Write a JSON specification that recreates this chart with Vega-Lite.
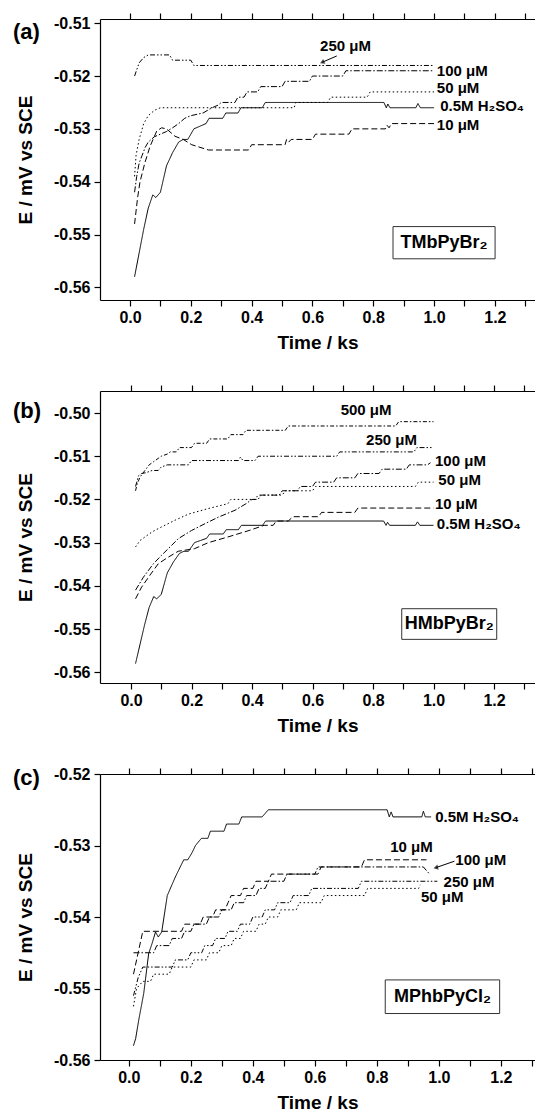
{
  "$schema": "https://vega.github.io/schema/vega-lite/v6.json",
  "padding": {"left": 13, "top": 12, "right": 0, "bottom": 0},
  "background": "white",
  "bounds": "flush",
  "spacing": 91,
  "config": {
    "view": {"stroke": null},
    "axis": {"grid": false, "domainColor": "#000", "tickColor": "#000", "labelColor": "#000", "titleColor": "#000", "labelFont": "Liberation Sans", "titleFont": "Liberation Sans", "labelFontWeight": "bold", "titleFontWeight": "bold", "labelFontSize": 16, "titleFontSize": 19, "domainWidth": 1.2, "tickWidth": 1.2},
    "text": {"font": "Liberation Sans", "fontWeight": "bold", "fontSize": 15, "color": "#000", "baseline": "middle", "align": "left"}
  },
  "datasets": {
    "a": [
      {"s": "0.5M H2SO4", "t": 0.015, "e": -0.558}, {"s": "0.5M H2SO4", "t": 0.03, "e": -0.5535}, {"s": "0.5M H2SO4", "t": 0.045, "e": -0.549}, {"s": "0.5M H2SO4", "t": 0.06, "e": -0.545}, {"s": "0.5M H2SO4", "t": 0.075, "e": -0.5425}, {"s": "0.5M H2SO4", "t": 0.085, "e": -0.543}, {"s": "0.5M H2SO4", "t": 0.1, "e": -0.542}, {"s": "0.5M H2SO4", "t": 0.12, "e": -0.537}, {"s": "0.5M H2SO4", "t": 0.14, "e": -0.5345}, {"s": "0.5M H2SO4", "t": 0.16, "e": -0.5325}, {"s": "0.5M H2SO4", "t": 0.175, "e": -0.532}, {"s": "0.5M H2SO4", "t": 0.19, "e": -0.532}, {"s": "0.5M H2SO4", "t": 0.2, "e": -0.531}, {"s": "0.5M H2SO4", "t": 0.21, "e": -0.53}, {"s": "0.5M H2SO4", "t": 0.23, "e": -0.5295}, {"s": "0.5M H2SO4", "t": 0.25, "e": -0.529}, {"s": "0.5M H2SO4", "t": 0.26, "e": -0.528}, {"s": "0.5M H2SO4", "t": 0.305, "e": -0.528}, {"s": "0.5M H2SO4", "t": 0.315, "e": -0.527}, {"s": "0.5M H2SO4", "t": 0.355, "e": -0.527}, {"s": "0.5M H2SO4", "t": 0.365, "e": -0.526}, {"s": "0.5M H2SO4", "t": 0.435, "e": -0.526}, {"s": "0.5M H2SO4", "t": 0.445, "e": -0.525}, {"s": "0.5M H2SO4", "t": 0.835, "e": -0.525}, {"s": "0.5M H2SO4", "t": 0.843, "e": -0.526}, {"s": "0.5M H2SO4", "t": 0.848, "e": -0.5253}, {"s": "0.5M H2SO4", "t": 0.855, "e": -0.526}, {"s": "0.5M H2SO4", "t": 0.94, "e": -0.526}, {"s": "0.5M H2SO4", "t": 0.947, "e": -0.5252}, {"s": "0.5M H2SO4", "t": 0.955, "e": -0.526}, {"s": "0.5M H2SO4", "t": 1.0, "e": -0.526},
      {"s": "10 μM", "t": 0.015, "e": -0.548}, {"s": "10 μM", "t": 0.025, "e": -0.543}, {"s": "10 μM", "t": 0.033, "e": -0.54}, {"s": "10 μM", "t": 0.049, "e": -0.5364}, {"s": "10 μM", "t": 0.066, "e": -0.5333}, {"s": "10 μM", "t": 0.088, "e": -0.5304}, {"s": "10 μM", "t": 0.104, "e": -0.5298}, {"s": "10 μM", "t": 0.12, "e": -0.53}, {"s": "10 μM", "t": 0.148, "e": -0.5314}, {"s": "10 μM", "t": 0.175, "e": -0.532}, {"s": "10 μM", "t": 0.203, "e": -0.533}, {"s": "10 μM", "t": 0.258, "e": -0.534}, {"s": "10 μM", "t": 0.39, "e": -0.534}, {"s": "10 μM", "t": 0.4, "e": -0.533}, {"s": "10 μM", "t": 0.51, "e": -0.533}, {"s": "10 μM", "t": 0.515, "e": -0.532}, {"s": "10 μM", "t": 0.522, "e": -0.5325}, {"s": "10 μM", "t": 0.53, "e": -0.532}, {"s": "10 μM", "t": 0.6, "e": -0.532}, {"s": "10 μM", "t": 0.61, "e": -0.531}, {"s": "10 μM", "t": 0.72, "e": -0.531}, {"s": "10 μM", "t": 0.73, "e": -0.53}, {"s": "10 μM", "t": 0.84, "e": -0.53}, {"s": "10 μM", "t": 0.845, "e": -0.5293}, {"s": "10 μM", "t": 0.852, "e": -0.5298}, {"s": "10 μM", "t": 0.86, "e": -0.529}, {"s": "10 μM", "t": 1.0, "e": -0.529},
      {"s": "50 μM", "t": 0.015, "e": -0.539}, {"s": "50 μM", "t": 0.02, "e": -0.535}, {"s": "50 μM", "t": 0.03, "e": -0.532}, {"s": "50 μM", "t": 0.045, "e": -0.529}, {"s": "50 μM", "t": 0.06, "e": -0.5275}, {"s": "50 μM", "t": 0.08, "e": -0.5265}, {"s": "50 μM", "t": 0.1, "e": -0.526}, {"s": "50 μM", "t": 0.54, "e": -0.526}, {"s": "50 μM", "t": 0.545, "e": -0.525}, {"s": "50 μM", "t": 0.65, "e": -0.525}, {"s": "50 μM", "t": 0.66, "e": -0.524}, {"s": "50 μM", "t": 0.78, "e": -0.524}, {"s": "50 μM", "t": 0.79, "e": -0.523}, {"s": "50 μM", "t": 1.0, "e": -0.523},
      {"s": "100 μM", "t": 0.015, "e": -0.542}, {"s": "100 μM", "t": 0.022, "e": -0.539}, {"s": "100 μM", "t": 0.03, "e": -0.5365}, {"s": "100 μM", "t": 0.04, "e": -0.535}, {"s": "100 μM", "t": 0.05, "e": -0.5335}, {"s": "100 μM", "t": 0.06, "e": -0.5325}, {"s": "100 μM", "t": 0.08, "e": -0.5315}, {"s": "100 μM", "t": 0.1, "e": -0.531}, {"s": "100 μM", "t": 0.12, "e": -0.5305}, {"s": "100 μM", "t": 0.14, "e": -0.5298}, {"s": "100 μM", "t": 0.16, "e": -0.529}, {"s": "100 μM", "t": 0.18, "e": -0.528}, {"s": "100 μM", "t": 0.2, "e": -0.5275}, {"s": "100 μM", "t": 0.24, "e": -0.527}, {"s": "100 μM", "t": 0.27, "e": -0.526}, {"s": "100 μM", "t": 0.29, "e": -0.5255}, {"s": "100 μM", "t": 0.3, "e": -0.525}, {"s": "100 μM", "t": 0.345, "e": -0.525}, {"s": "100 μM", "t": 0.355, "e": -0.524}, {"s": "100 μM", "t": 0.375, "e": -0.524}, {"s": "100 μM", "t": 0.385, "e": -0.523}, {"s": "100 μM", "t": 0.42, "e": -0.523}, {"s": "100 μM", "t": 0.43, "e": -0.522}, {"s": "100 μM", "t": 0.5, "e": -0.522}, {"s": "100 μM", "t": 0.51, "e": -0.521}, {"s": "100 μM", "t": 0.59, "e": -0.521}, {"s": "100 μM", "t": 0.6, "e": -0.52}, {"s": "100 μM", "t": 0.7, "e": -0.52}, {"s": "100 μM", "t": 0.71, "e": -0.519}, {"s": "100 μM", "t": 1.0, "e": -0.519},
      {"s": "250 μM", "t": 0.015, "e": -0.52}, {"s": "250 μM", "t": 0.03, "e": -0.5175}, {"s": "250 μM", "t": 0.045, "e": -0.5165}, {"s": "250 μM", "t": 0.06, "e": -0.516}, {"s": "250 μM", "t": 0.13, "e": -0.516}, {"s": "250 μM", "t": 0.14, "e": -0.517}, {"s": "250 μM", "t": 0.2, "e": -0.517}, {"s": "250 μM", "t": 0.21, "e": -0.518}, {"s": "250 μM", "t": 1.0, "e": -0.518}
    ],
    "b": [
      {"s": "0.5M H2SO4", "t": 0.015, "e": -0.558}, {"s": "0.5M H2SO4", "t": 0.03, "e": -0.5535}, {"s": "0.5M H2SO4", "t": 0.045, "e": -0.549}, {"s": "0.5M H2SO4", "t": 0.06, "e": -0.545}, {"s": "0.5M H2SO4", "t": 0.075, "e": -0.5425}, {"s": "0.5M H2SO4", "t": 0.085, "e": -0.543}, {"s": "0.5M H2SO4", "t": 0.1, "e": -0.542}, {"s": "0.5M H2SO4", "t": 0.12, "e": -0.537}, {"s": "0.5M H2SO4", "t": 0.14, "e": -0.5345}, {"s": "0.5M H2SO4", "t": 0.16, "e": -0.5325}, {"s": "0.5M H2SO4", "t": 0.175, "e": -0.532}, {"s": "0.5M H2SO4", "t": 0.19, "e": -0.532}, {"s": "0.5M H2SO4", "t": 0.2, "e": -0.531}, {"s": "0.5M H2SO4", "t": 0.21, "e": -0.53}, {"s": "0.5M H2SO4", "t": 0.23, "e": -0.5295}, {"s": "0.5M H2SO4", "t": 0.25, "e": -0.529}, {"s": "0.5M H2SO4", "t": 0.26, "e": -0.528}, {"s": "0.5M H2SO4", "t": 0.305, "e": -0.528}, {"s": "0.5M H2SO4", "t": 0.315, "e": -0.527}, {"s": "0.5M H2SO4", "t": 0.355, "e": -0.527}, {"s": "0.5M H2SO4", "t": 0.365, "e": -0.526}, {"s": "0.5M H2SO4", "t": 0.435, "e": -0.526}, {"s": "0.5M H2SO4", "t": 0.445, "e": -0.525}, {"s": "0.5M H2SO4", "t": 0.835, "e": -0.525}, {"s": "0.5M H2SO4", "t": 0.843, "e": -0.526}, {"s": "0.5M H2SO4", "t": 0.848, "e": -0.5253}, {"s": "0.5M H2SO4", "t": 0.855, "e": -0.526}, {"s": "0.5M H2SO4", "t": 0.94, "e": -0.526}, {"s": "0.5M H2SO4", "t": 0.947, "e": -0.5252}, {"s": "0.5M H2SO4", "t": 0.955, "e": -0.526}, {"s": "0.5M H2SO4", "t": 1.0, "e": -0.526},
      {"s": "10 μM", "t": 0.015, "e": -0.543}, {"s": "10 μM", "t": 0.035, "e": -0.5403}, {"s": "10 μM", "t": 0.062, "e": -0.5376}, {"s": "10 μM", "t": 0.09, "e": -0.5349}, {"s": "10 μM", "t": 0.12, "e": -0.5335}, {"s": "10 μM", "t": 0.156, "e": -0.532}, {"s": "10 μM", "t": 0.21, "e": -0.5314}, {"s": "10 μM", "t": 0.256, "e": -0.53}, {"s": "10 μM", "t": 0.32, "e": -0.5287}, {"s": "10 μM", "t": 0.39, "e": -0.5272}, {"s": "10 μM", "t": 0.44, "e": -0.526}, {"s": "10 μM", "t": 0.47, "e": -0.526}, {"s": "10 μM", "t": 0.48, "e": -0.525}, {"s": "10 μM", "t": 0.52, "e": -0.525}, {"s": "10 μM", "t": 0.535, "e": -0.524}, {"s": "10 μM", "t": 0.62, "e": -0.524}, {"s": "10 μM", "t": 0.63, "e": -0.523}, {"s": "10 μM", "t": 0.74, "e": -0.523}, {"s": "10 μM", "t": 0.75, "e": -0.522}, {"s": "10 μM", "t": 1.0, "e": -0.522},
      {"s": "50 μM", "t": 0.015, "e": -0.531}, {"s": "50 μM", "t": 0.03, "e": -0.5295}, {"s": "50 μM", "t": 0.046, "e": -0.5287}, {"s": "50 μM", "t": 0.07, "e": -0.5275}, {"s": "50 μM", "t": 0.1, "e": -0.5264}, {"s": "50 μM", "t": 0.146, "e": -0.5248}, {"s": "50 μM", "t": 0.19, "e": -0.5234}, {"s": "50 μM", "t": 0.256, "e": -0.5221}, {"s": "50 μM", "t": 0.32, "e": -0.521}, {"s": "50 μM", "t": 0.33, "e": -0.52}, {"s": "50 μM", "t": 0.41, "e": -0.52}, {"s": "50 μM", "t": 0.42, "e": -0.519}, {"s": "50 μM", "t": 0.5, "e": -0.519}, {"s": "50 μM", "t": 0.51, "e": -0.518}, {"s": "50 μM", "t": 0.6, "e": -0.518}, {"s": "50 μM", "t": 0.61, "e": -0.517}, {"s": "50 μM", "t": 0.94, "e": -0.517}, {"s": "50 μM", "t": 0.95, "e": -0.516}, {"s": "50 μM", "t": 1.0, "e": -0.516},
      {"s": "100 μM", "t": 0.015, "e": -0.541}, {"s": "100 μM", "t": 0.041, "e": -0.538}, {"s": "100 μM", "t": 0.074, "e": -0.5349}, {"s": "100 μM", "t": 0.1, "e": -0.533}, {"s": "100 μM", "t": 0.129, "e": -0.531}, {"s": "100 μM", "t": 0.156, "e": -0.5291}, {"s": "100 μM", "t": 0.2, "e": -0.5272}, {"s": "100 μM", "t": 0.245, "e": -0.5256}, {"s": "100 μM", "t": 0.289, "e": -0.5241}, {"s": "100 μM", "t": 0.344, "e": -0.5225}, {"s": "100 μM", "t": 0.38, "e": -0.521}, {"s": "100 μM", "t": 0.4, "e": -0.52}, {"s": "100 μM", "t": 0.42, "e": -0.52}, {"s": "100 μM", "t": 0.43, "e": -0.519}, {"s": "100 μM", "t": 0.49, "e": -0.519}, {"s": "100 μM", "t": 0.5, "e": -0.518}, {"s": "100 μM", "t": 0.55, "e": -0.518}, {"s": "100 μM", "t": 0.56, "e": -0.517}, {"s": "100 μM", "t": 0.6, "e": -0.517}, {"s": "100 μM", "t": 0.61, "e": -0.516}, {"s": "100 μM", "t": 0.67, "e": -0.516}, {"s": "100 μM", "t": 0.68, "e": -0.515}, {"s": "100 μM", "t": 0.74, "e": -0.515}, {"s": "100 μM", "t": 0.75, "e": -0.514}, {"s": "100 μM", "t": 0.82, "e": -0.514}, {"s": "100 μM", "t": 0.83, "e": -0.513}, {"s": "100 μM", "t": 0.91, "e": -0.513}, {"s": "100 μM", "t": 0.92, "e": -0.512}, {"s": "100 μM", "t": 0.98, "e": -0.512}, {"s": "100 μM", "t": 0.99, "e": -0.5115},
      {"s": "250 μM", "t": 0.015, "e": -0.517}, {"s": "250 μM", "t": 0.025, "e": -0.5145}, {"s": "250 μM", "t": 0.035, "e": -0.514}, {"s": "250 μM", "t": 0.05, "e": -0.5138}, {"s": "250 μM", "t": 0.07, "e": -0.5133}, {"s": "250 μM", "t": 0.09, "e": -0.5133}, {"s": "250 μM", "t": 0.1, "e": -0.5125}, {"s": "250 μM", "t": 0.12, "e": -0.512}, {"s": "250 μM", "t": 0.19, "e": -0.512}, {"s": "250 μM", "t": 0.2, "e": -0.511}, {"s": "250 μM", "t": 0.355, "e": -0.511}, {"s": "250 μM", "t": 0.362, "e": -0.5102}, {"s": "250 μM", "t": 0.37, "e": -0.511}, {"s": "250 μM", "t": 0.41, "e": -0.511}, {"s": "250 μM", "t": 0.42, "e": -0.51}, {"s": "250 μM", "t": 0.68, "e": -0.51}, {"s": "250 μM", "t": 0.69, "e": -0.509}, {"s": "250 μM", "t": 0.935, "e": -0.509}, {"s": "250 μM", "t": 0.945, "e": -0.508}, {"s": "250 μM", "t": 1.0, "e": -0.508},
      {"s": "500 μM", "t": 0.015, "e": -0.518}, {"s": "500 μM", "t": 0.02, "e": -0.5165}, {"s": "500 μM", "t": 0.03, "e": -0.5148}, {"s": "500 μM", "t": 0.046, "e": -0.5133}, {"s": "500 μM", "t": 0.06, "e": -0.512}, {"s": "500 μM", "t": 0.074, "e": -0.5113}, {"s": "500 μM", "t": 0.09, "e": -0.5105}, {"s": "500 μM", "t": 0.1, "e": -0.51}, {"s": "500 μM", "t": 0.12, "e": -0.5095}, {"s": "500 μM", "t": 0.13, "e": -0.509}, {"s": "500 μM", "t": 0.15, "e": -0.509}, {"s": "500 μM", "t": 0.16, "e": -0.508}, {"s": "500 μM", "t": 0.2, "e": -0.508}, {"s": "500 μM", "t": 0.21, "e": -0.507}, {"s": "500 μM", "t": 0.25, "e": -0.507}, {"s": "500 μM", "t": 0.26, "e": -0.506}, {"s": "500 μM", "t": 0.32, "e": -0.506}, {"s": "500 μM", "t": 0.33, "e": -0.505}, {"s": "500 μM", "t": 0.37, "e": -0.505}, {"s": "500 μM", "t": 0.38, "e": -0.504}, {"s": "500 μM", "t": 0.51, "e": -0.504}, {"s": "500 μM", "t": 0.52, "e": -0.503}, {"s": "500 μM", "t": 0.875, "e": -0.503}, {"s": "500 μM", "t": 0.885, "e": -0.502}, {"s": "500 μM", "t": 1.0, "e": -0.502}
    ],
    "c": [
      {"s": "0.5M H2SO4", "t": 0.015, "e": -0.558}, {"s": "0.5M H2SO4", "t": 0.022, "e": -0.557}, {"s": "0.5M H2SO4", "t": 0.032, "e": -0.5544}, {"s": "0.5M H2SO4", "t": 0.048, "e": -0.5507}, {"s": "0.5M H2SO4", "t": 0.064, "e": -0.5451}, {"s": "0.5M H2SO4", "t": 0.075, "e": -0.5437}, {"s": "0.5M H2SO4", "t": 0.086, "e": -0.5421}, {"s": "0.5M H2SO4", "t": 0.095, "e": -0.5428}, {"s": "0.5M H2SO4", "t": 0.106, "e": -0.5421}, {"s": "0.5M H2SO4", "t": 0.124, "e": -0.537}, {"s": "0.5M H2SO4", "t": 0.15, "e": -0.5344}, {"s": "0.5M H2SO4", "t": 0.177, "e": -0.532}, {"s": "0.5M H2SO4", "t": 0.19, "e": -0.532}, {"s": "0.5M H2SO4", "t": 0.204, "e": -0.531}, {"s": "0.5M H2SO4", "t": 0.215, "e": -0.53}, {"s": "0.5M H2SO4", "t": 0.234, "e": -0.529}, {"s": "0.5M H2SO4", "t": 0.255, "e": -0.529}, {"s": "0.5M H2SO4", "t": 0.263, "e": -0.528}, {"s": "0.5M H2SO4", "t": 0.307, "e": -0.528}, {"s": "0.5M H2SO4", "t": 0.315, "e": -0.527}, {"s": "0.5M H2SO4", "t": 0.355, "e": -0.527}, {"s": "0.5M H2SO4", "t": 0.364, "e": -0.526}, {"s": "0.5M H2SO4", "t": 0.43, "e": -0.526}, {"s": "0.5M H2SO4", "t": 0.45, "e": -0.525}, {"s": "0.5M H2SO4", "t": 0.833, "e": -0.525}, {"s": "0.5M H2SO4", "t": 0.84, "e": -0.526}, {"s": "0.5M H2SO4", "t": 0.846, "e": -0.5253}, {"s": "0.5M H2SO4", "t": 0.852, "e": -0.526}, {"s": "0.5M H2SO4", "t": 0.945, "e": -0.526}, {"s": "0.5M H2SO4", "t": 0.95, "e": -0.5252}, {"s": "0.5M H2SO4", "t": 0.956, "e": -0.526}, {"s": "0.5M H2SO4", "t": 0.975, "e": -0.526},
      {"s": "10 μM", "t": 0.015, "e": -0.548}, {"s": "10 μM", "t": 0.03, "e": -0.545}, {"s": "10 μM", "t": 0.045, "e": -0.542}, {"s": "10 μM", "t": 0.17, "e": -0.542}, {"s": "10 μM", "t": 0.18, "e": -0.541}, {"s": "10 μM", "t": 0.23, "e": -0.541}, {"s": "10 μM", "t": 0.24, "e": -0.54}, {"s": "10 μM", "t": 0.27, "e": -0.54}, {"s": "10 μM", "t": 0.28, "e": -0.539}, {"s": "10 μM", "t": 0.31, "e": -0.539}, {"s": "10 μM", "t": 0.32, "e": -0.538}, {"s": "10 μM", "t": 0.33, "e": -0.537}, {"s": "10 μM", "t": 0.36, "e": -0.537}, {"s": "10 μM", "t": 0.37, "e": -0.536}, {"s": "10 μM", "t": 0.4, "e": -0.536}, {"s": "10 μM", "t": 0.41, "e": -0.535}, {"s": "10 μM", "t": 0.45, "e": -0.535}, {"s": "10 μM", "t": 0.46, "e": -0.534}, {"s": "10 μM", "t": 0.61, "e": -0.534}, {"s": "10 μM", "t": 0.62, "e": -0.533}, {"s": "10 μM", "t": 0.75, "e": -0.533}, {"s": "10 μM", "t": 0.76, "e": -0.532}, {"s": "10 μM", "t": 0.96, "e": -0.532},
      {"s": "100 μM", "t": 0.015, "e": -0.545}, {"s": "100 μM", "t": 0.08, "e": -0.545}, {"s": "100 μM", "t": 0.09, "e": -0.544}, {"s": "100 μM", "t": 0.13, "e": -0.544}, {"s": "100 μM", "t": 0.14, "e": -0.543}, {"s": "100 μM", "t": 0.17, "e": -0.543}, {"s": "100 μM", "t": 0.18, "e": -0.542}, {"s": "100 μM", "t": 0.2, "e": -0.542}, {"s": "100 μM", "t": 0.21, "e": -0.541}, {"s": "100 μM", "t": 0.25, "e": -0.541}, {"s": "100 μM", "t": 0.26, "e": -0.54}, {"s": "100 μM", "t": 0.29, "e": -0.54}, {"s": "100 μM", "t": 0.3, "e": -0.539}, {"s": "100 μM", "t": 0.33, "e": -0.539}, {"s": "100 μM", "t": 0.34, "e": -0.538}, {"s": "100 μM", "t": 0.37, "e": -0.538}, {"s": "100 μM", "t": 0.38, "e": -0.537}, {"s": "100 μM", "t": 0.41, "e": -0.537}, {"s": "100 μM", "t": 0.42, "e": -0.536}, {"s": "100 μM", "t": 0.44, "e": -0.536}, {"s": "100 μM", "t": 0.45, "e": -0.535}, {"s": "100 μM", "t": 0.5, "e": -0.535}, {"s": "100 μM", "t": 0.51, "e": -0.534}, {"s": "100 μM", "t": 0.6, "e": -0.534}, {"s": "100 μM", "t": 0.61, "e": -0.533}, {"s": "100 μM", "t": 0.95, "e": -0.533}, {"s": "100 μM", "t": 0.97, "e": -0.534},
      {"s": "250 μM", "t": 0.015, "e": -0.551}, {"s": "250 μM", "t": 0.03, "e": -0.5485}, {"s": "250 μM", "t": 0.045, "e": -0.547}, {"s": "250 μM", "t": 0.14, "e": -0.547}, {"s": "250 μM", "t": 0.15, "e": -0.546}, {"s": "250 μM", "t": 0.19, "e": -0.546}, {"s": "250 μM", "t": 0.2, "e": -0.545}, {"s": "250 μM", "t": 0.235, "e": -0.545}, {"s": "250 μM", "t": 0.245, "e": -0.544}, {"s": "250 μM", "t": 0.27, "e": -0.544}, {"s": "250 μM", "t": 0.28, "e": -0.543}, {"s": "250 μM", "t": 0.31, "e": -0.543}, {"s": "250 μM", "t": 0.32, "e": -0.542}, {"s": "250 μM", "t": 0.35, "e": -0.542}, {"s": "250 μM", "t": 0.36, "e": -0.541}, {"s": "250 μM", "t": 0.39, "e": -0.541}, {"s": "250 μM", "t": 0.4, "e": -0.54}, {"s": "250 μM", "t": 0.43, "e": -0.54}, {"s": "250 μM", "t": 0.44, "e": -0.539}, {"s": "250 μM", "t": 0.47, "e": -0.539}, {"s": "250 μM", "t": 0.48, "e": -0.538}, {"s": "250 μM", "t": 0.52, "e": -0.538}, {"s": "250 μM", "t": 0.53, "e": -0.537}, {"s": "250 μM", "t": 0.58, "e": -0.537}, {"s": "250 μM", "t": 0.59, "e": -0.536}, {"s": "250 μM", "t": 0.74, "e": -0.536}, {"s": "250 μM", "t": 0.75, "e": -0.535}, {"s": "250 μM", "t": 0.995, "e": -0.535},
      {"s": "50 μM", "t": 0.015, "e": -0.5525}, {"s": "50 μM", "t": 0.025, "e": -0.55}, {"s": "50 μM", "t": 0.045, "e": -0.549}, {"s": "50 μM", "t": 0.07, "e": -0.549}, {"s": "50 μM", "t": 0.08, "e": -0.548}, {"s": "50 μM", "t": 0.13, "e": -0.548}, {"s": "50 μM", "t": 0.14, "e": -0.547}, {"s": "50 μM", "t": 0.2, "e": -0.547}, {"s": "50 μM", "t": 0.21, "e": -0.546}, {"s": "50 μM", "t": 0.25, "e": -0.546}, {"s": "50 μM", "t": 0.26, "e": -0.545}, {"s": "50 μM", "t": 0.29, "e": -0.545}, {"s": "50 μM", "t": 0.3, "e": -0.544}, {"s": "50 μM", "t": 0.33, "e": -0.544}, {"s": "50 μM", "t": 0.34, "e": -0.543}, {"s": "50 μM", "t": 0.36, "e": -0.543}, {"s": "50 μM", "t": 0.37, "e": -0.542}, {"s": "50 μM", "t": 0.41, "e": -0.542}, {"s": "50 μM", "t": 0.42, "e": -0.541}, {"s": "50 μM", "t": 0.44, "e": -0.541}, {"s": "50 μM", "t": 0.45, "e": -0.54}, {"s": "50 μM", "t": 0.48, "e": -0.54}, {"s": "50 μM", "t": 0.49, "e": -0.539}, {"s": "50 μM", "t": 0.54, "e": -0.539}, {"s": "50 μM", "t": 0.55, "e": -0.538}, {"s": "50 μM", "t": 0.62, "e": -0.538}, {"s": "50 μM", "t": 0.63, "e": -0.537}, {"s": "50 μM", "t": 0.76, "e": -0.537}, {"s": "50 μM", "t": 0.77, "e": -0.536}, {"s": "50 μM", "t": 0.935, "e": -0.536}, {"s": "50 μM", "t": 0.94, "e": -0.5355}
    ],
    "labels": [
      {"p": "a", "t": 0.625, "e": -0.5143, "txt": "250 μM"}, {"p": "a", "t": 1.009, "e": -0.519, "txt": "100 μM"}, {"p": "a", "t": 1.009, "e": -0.5222, "txt": "50 μM"}, {"p": "a", "t": 1.02, "e": -0.5256, "txt": "0.5M H₂SO₄"}, {"p": "a", "t": 1.009, "e": -0.5293, "txt": "10 μM"},
      {"p": "b", "t": 0.693, "e": -0.4992, "txt": "500 μM"}, {"p": "b", "t": 0.777, "e": -0.5063, "txt": "250 μM"}, {"p": "b", "t": 1.005, "e": -0.5111, "txt": "100 μM"}, {"p": "b", "t": 1.016, "e": -0.5154, "txt": "50 μM"}, {"p": "b", "t": 1.005, "e": -0.521, "txt": "10 μM"}, {"p": "b", "t": 1.011, "e": -0.5258, "txt": "0.5M H₂SO₄"},
      {"p": "c", "t": 0.843, "e": -0.5302, "txt": "10 μM"}, {"p": "c", "t": 1.053, "e": -0.532, "txt": "100 μM"}, {"p": "c", "t": 1.015, "e": -0.5351, "txt": "250 μM"}, {"p": "c", "t": 0.942, "e": -0.5372, "txt": "50 μM"}, {"p": "c", "t": 0.988, "e": -0.526, "txt": "0.5M H₂SO₄"}
    ],
    "boxes": [
      {"p": "a", "t1": 0.865, "t2": 1.2007, "e1": -0.5485, "e2": -0.5546, "tc": 1.033, "ec": -0.5516, "txt": "TMbPyBr₂"},
      {"p": "b", "t1": 0.895, "t2": 1.209, "e1": -0.5453, "e2": -0.5524, "tc": 1.052, "ec": -0.5489, "txt": "HMbPyBr₂"},
      {"p": "c", "t1": 0.827, "t2": 1.196, "e1": -0.5488, "e2": -0.5535, "tc": 1.0115, "ec": -0.5512, "txt": "MPhbPyCl₂"}
    ],
    "arrows": [
      {"p": "a", "t1": 0.68, "e1": -0.5162, "t2": 0.632, "e2": -0.5174, "ang": 246},
      {"p": "c", "t1": 1.05, "e1": -0.5322, "t2": 0.99, "e2": -0.5331, "ang": 256}
    ]
  },
  "vconcat": [
    {
      "width": 435, "height": 281,
      "title": {"text": "(a)", "frame": "group", "anchor": "start", "orient": "top", "offset": 0, "baseline": "middle", "align": "left", "dx": -87, "dy": 42, "font": "Liberation Sans", "fontWeight": "bold", "fontSize": 22, "color": "#000"},
      "resolve": {"axis": {"x": "independent"}},
      "layer": [
        {"data": {"name": "a"}, "mark": {"type": "line", "strokeWidth": 1, "color": "#000"},
         "encoding": {
           "x": {"field": "t", "type": "quantitative", "scale": {"domain": [-0.0987, 1.332], "nice": false, "zero": false},
             "axis": {"orient": "bottom", "title": "Time / ks", "tickSize": 6, "values": [0, 0.1, 0.2, 0.3, 0.4, 0.5, 0.6, 0.7, 0.8, 0.9, 1.0, 1.1, 1.2, 1.3], "labelExpr": "abs(round(datum.value*10)) % 2 == 0 ? format(datum.value, '.1f') : ''", "labelPadding": 3, "titlePadding": 8, "encode": {"ticks": {"update": {"y2": {"signal": "abs(round(datum.value*10)) % 2 == 0 ? -6 : -3"}}}}}},
           "y": {"field": "e", "type": "quantitative", "scale": {"domain": [-0.5624, -0.5092], "nice": false, "zero": false},
             "axis": {"title": "E / mV vs SCE", "tickSize": 6, "values": [-0.56, -0.555, -0.55, -0.545, -0.54, -0.535, -0.53, -0.525, -0.52, -0.515, -0.51], "labelExpr": "abs(round(datum.value*1000)) % 10 == 0 ? '-' + format(abs(datum.value), '.2f') : ''", "labelPadding": 4, "titlePadding": 18, "encode": {"ticks": {"update": {"x2": {"signal": "abs(round(datum.value*1000)) % 10 == 0 ? 6 : 3"}}}}}},
           "strokeDash": {"field": "s", "type": "nominal", "legend": null, "scale": {"domain": ["0.5M H2SO4", "10 μM", "50 μM", "100 μM", "250 μM", "500 μM"], "range": [[1, 0], [6, 3], [1.5, 2.5], [6, 2, 1.5, 2], [5, 2, 1.5, 2, 1.5, 2], [4, 2, 1.5, 2]]}}
         }},
        {"data": {"name": "labels"}, "transform": [{"filter": "datum.p == 'a'"}], "mark": {"type": "text"},
         "encoding": {
           "x": {"field": "t", "type": "quantitative", "scale": {"domain": [-0.0987, 1.332], "nice": false, "zero": false},
             "axis": {"orient": "top", "title": null, "labels": false, "tickSize": 6, "values": [0, 0.1, 0.2, 0.3, 0.4, 0.5, 0.6, 0.7, 0.8, 0.9, 1.0, 1.1, 1.2, 1.3], "encode": {"ticks": {"update": {"y2": {"signal": "abs(round(datum.value*10)) % 2 == 0 ? 6 : 3"}}}}}},
           "y": {"field": "e", "type": "quantitative"},
           "text": {"field": "txt"}
         }},
        {"data": {"name": "boxes"}, "transform": [{"filter": "datum.p == 'a'"}], "mark": {"type": "rect", "fill": null, "stroke": "#333", "strokeWidth": 1},
         "encoding": {"x": {"field": "t1", "type": "quantitative", "axis": null}, "x2": {"field": "t2"}, "y": {"field": "e1", "type": "quantitative"}, "y2": {"field": "e2"}}},
        {"data": {"name": "boxes"}, "transform": [{"filter": "datum.p == 'a'"}], "mark": {"type": "text", "align": "center", "fontSize": 18},
         "encoding": {"x": {"field": "tc", "type": "quantitative", "axis": null}, "y": {"field": "ec", "type": "quantitative"}, "text": {"field": "txt"}}},
        {"data": {"name": "arrows"}, "transform": [{"filter": "datum.p == 'a'"}], "mark": {"type": "rule", "color": "#000", "strokeWidth": 1},
         "encoding": {"x": {"field": "t1", "type": "quantitative", "axis": null}, "x2": {"field": "t2"}, "y": {"field": "e1", "type": "quantitative"}, "y2": {"field": "e2"}}},
        {"data": {"name": "arrows"}, "transform": [{"filter": "datum.p == 'a'"}], "mark": {"type": "point", "shape": "triangle-up", "filled": true, "color": "#000", "size": 28},
         "encoding": {"x": {"field": "t2", "type": "quantitative", "axis": null}, "y": {"field": "e2", "type": "quantitative"}, "angle": {"field": "ang", "type": "quantitative", "scale": null}}}
      ]
    },
    {
      "width": 435, "height": 292,
      "title": {"text": "(b)", "frame": "group", "anchor": "start", "orient": "top", "offset": 0, "baseline": "middle", "align": "left", "dx": -87, "dy": 49, "font": "Liberation Sans", "fontWeight": "bold", "fontSize": 22, "color": "#000"},
      "resolve": {"axis": {"x": "independent"}},
      "layer": [
        {"data": {"name": "b"}, "mark": {"type": "line", "strokeWidth": 1, "color": "#000"},
         "encoding": {
           "x": {"field": "t", "type": "quantitative", "scale": {"domain": [-0.1025, 1.3355], "nice": false, "zero": false},
             "axis": {"orient": "bottom", "title": "Time / ks", "tickSize": 6, "values": [0, 0.1, 0.2, 0.3, 0.4, 0.5, 0.6, 0.7, 0.8, 0.9, 1.0, 1.1, 1.2, 1.3], "labelExpr": "abs(round(datum.value*10)) % 2 == 0 ? format(datum.value, '.1f') : ''", "labelPadding": 3, "titlePadding": 8, "encode": {"ticks": {"update": {"y2": {"signal": "abs(round(datum.value*10)) % 2 == 0 ? -6 : -3"}}}}}},
           "y": {"field": "e", "type": "quantitative", "scale": {"domain": [-0.5625, -0.4949], "nice": false, "zero": false},
             "axis": {"title": "E / mV vs SCE", "tickSize": 6, "values": [-0.56, -0.555, -0.55, -0.545, -0.54, -0.535, -0.53, -0.525, -0.52, -0.515, -0.51, -0.505, -0.5, -0.495], "labelExpr": "abs(round(datum.value*1000)) % 10 == 0 ? '-' + format(abs(datum.value), '.2f') : ''", "labelPadding": 4, "titlePadding": 18, "encode": {"ticks": {"update": {"x2": {"signal": "abs(round(datum.value*1000)) % 10 == 0 ? 6 : 3"}}}}}},
           "strokeDash": {"field": "s", "type": "nominal", "legend": null, "scale": {"domain": ["0.5M H2SO4", "10 μM", "50 μM", "100 μM", "250 μM", "500 μM"], "range": [[1, 0], [6, 3], [1.5, 2.5], [6, 2, 1.5, 2], [5, 2, 1.5, 2, 1.5, 2], [4, 2, 1.5, 2]]}}
         }},
        {"data": {"name": "labels"}, "transform": [{"filter": "datum.p == 'b'"}], "mark": {"type": "text"},
         "encoding": {
           "x": {"field": "t", "type": "quantitative", "scale": {"domain": [-0.1025, 1.3355], "nice": false, "zero": false},
             "axis": {"orient": "top", "title": null, "labels": false, "tickSize": 6, "values": [0, 0.1, 0.2, 0.3, 0.4, 0.5, 0.6, 0.7, 0.8, 0.9, 1.0, 1.1, 1.2, 1.3], "encode": {"ticks": {"update": {"y2": {"signal": "abs(round(datum.value*10)) % 2 == 0 ? 6 : 3"}}}}}},
           "y": {"field": "e", "type": "quantitative"},
           "text": {"field": "txt"}
         }},
        {"data": {"name": "boxes"}, "transform": [{"filter": "datum.p == 'b'"}], "mark": {"type": "rect", "fill": null, "stroke": "#333", "strokeWidth": 1},
         "encoding": {"x": {"field": "t1", "type": "quantitative", "axis": null}, "x2": {"field": "t2"}, "y": {"field": "e1", "type": "quantitative"}, "y2": {"field": "e2"}}},
        {"data": {"name": "boxes"}, "transform": [{"filter": "datum.p == 'b'"}], "mark": {"type": "text", "align": "center", "fontSize": 18},
         "encoding": {"x": {"field": "tc", "type": "quantitative", "axis": null}, "y": {"field": "ec", "type": "quantitative"}, "text": {"field": "txt"}}}
      ]
    },
    {
      "width": 435, "height": 286,
      "title": {"text": "(c)", "frame": "group", "anchor": "start", "orient": "top", "offset": 0, "baseline": "middle", "align": "left", "dx": -87, "dy": 34, "font": "Liberation Sans", "fontWeight": "bold", "fontSize": 22, "color": "#000"},
      "resolve": {"axis": {"x": "independent"}},
      "layer": [
        {"data": {"name": "c"}, "mark": {"type": "line", "strokeWidth": 1, "color": "#000"},
         "encoding": {
           "x": {"field": "t", "type": "quantitative", "scale": {"domain": [-0.093, 1.31], "nice": false, "zero": false},
             "axis": {"orient": "bottom", "title": "Time / ks", "tickSize": 6, "values": [0, 0.1, 0.2, 0.3, 0.4, 0.5, 0.6, 0.7, 0.8, 0.9, 1.0, 1.1, 1.2, 1.3], "labelExpr": "abs(round(datum.value*10)) % 2 == 0 ? format(datum.value, '.1f') : ''", "labelPadding": 3, "titlePadding": 8, "encode": {"ticks": {"update": {"y2": {"signal": "abs(round(datum.value*10)) % 2 == 0 ? -6 : -3"}}}}}},
           "y": {"field": "e", "type": "quantitative", "scale": {"domain": [-0.56, -0.52], "nice": false, "zero": false},
             "axis": {"title": "E / mV vs SCE", "tickSize": 6, "values": [-0.56, -0.555, -0.55, -0.545, -0.54, -0.535, -0.53, -0.525, -0.52], "labelExpr": "abs(round(datum.value*1000)) % 10 == 0 ? '-' + format(abs(datum.value), '.2f') : ''", "labelPadding": 4, "titlePadding": 18, "encode": {"ticks": {"update": {"x2": {"signal": "abs(round(datum.value*1000)) % 10 == 0 ? 6 : 3"}}}}}},
           "strokeDash": {"field": "s", "type": "nominal", "legend": null, "scale": {"domain": ["0.5M H2SO4", "10 μM", "50 μM", "100 μM", "250 μM", "500 μM"], "range": [[1, 0], [6, 3], [1.5, 2.5], [6, 2, 1.5, 2], [5, 2, 1.5, 2, 1.5, 2], [4, 2, 1.5, 2]]}}
         }},
        {"data": {"name": "labels"}, "transform": [{"filter": "datum.p == 'c'"}], "mark": {"type": "text"},
         "encoding": {
           "x": {"field": "t", "type": "quantitative", "scale": {"domain": [-0.093, 1.31], "nice": false, "zero": false},
             "axis": {"orient": "top", "title": null, "labels": false, "tickSize": 6, "values": [0, 0.1, 0.2, 0.3, 0.4, 0.5, 0.6, 0.7, 0.8, 0.9, 1.0, 1.1, 1.2, 1.3], "encode": {"ticks": {"update": {"y2": {"signal": "abs(round(datum.value*10)) % 2 == 0 ? 6 : 3"}}}}}},
           "y": {"field": "e", "type": "quantitative"},
           "text": {"field": "txt"}
         }},
        {"data": {"name": "boxes"}, "transform": [{"filter": "datum.p == 'c'"}], "mark": {"type": "rect", "fill": null, "stroke": "#333", "strokeWidth": 1},
         "encoding": {"x": {"field": "t1", "type": "quantitative", "axis": null}, "x2": {"field": "t2"}, "y": {"field": "e1", "type": "quantitative"}, "y2": {"field": "e2"}}},
        {"data": {"name": "boxes"}, "transform": [{"filter": "datum.p == 'c'"}], "mark": {"type": "text", "align": "center", "fontSize": 18},
         "encoding": {"x": {"field": "tc", "type": "quantitative", "axis": null}, "y": {"field": "ec", "type": "quantitative"}, "text": {"field": "txt"}}},
        {"data": {"name": "arrows"}, "transform": [{"filter": "datum.p == 'c'"}], "mark": {"type": "rule", "color": "#000", "strokeWidth": 1},
         "encoding": {"x": {"field": "t1", "type": "quantitative", "axis": null}, "x2": {"field": "t2"}, "y": {"field": "e1", "type": "quantitative"}, "y2": {"field": "e2"}}},
        {"data": {"name": "arrows"}, "transform": [{"filter": "datum.p == 'c'"}], "mark": {"type": "point", "shape": "triangle-up", "filled": true, "color": "#000", "size": 28},
         "encoding": {"x": {"field": "t2", "type": "quantitative", "axis": null}, "y": {"field": "e2", "type": "quantitative"}, "angle": {"field": "ang", "type": "quantitative", "scale": null}}}
      ]
    }
  ]
}
